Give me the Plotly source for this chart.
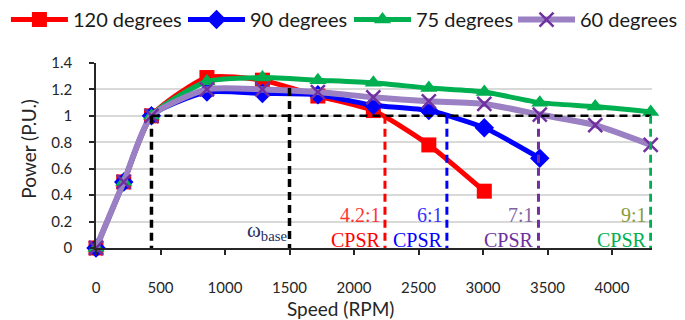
import plotly.graph_objects as go

speed = [0, 215, 430, 860, 1290, 1720, 2150, 2580, 3010, 3440, 3870, 4300]
p120 = [0, 0.5, 1.0, 1.29, 1.27, 1.15, 1.04, 0.78, 0.43]
p90 = [0, 0.5, 1.0, 1.18, 1.17, 1.16, 1.08, 1.04, 0.91, 0.68]
p75 = [0, 0.5, 1.0, 1.26, 1.29, 1.27, 1.25, 1.21, 1.18, 1.10, 1.07, 1.03]
p60 = [0, 0.5, 1.0, 1.20, 1.20, 1.18, 1.14, 1.11, 1.09, 1.01, 0.93, 0.78]

series_names = ["120 degrees", "90 degrees", "75 degrees", "60 degrees"]
base_speed = 430
mid_speed = 1500
mid_power = 1.21
cpsr_speed = [2240, 2720, 3430, 4300]
cpsr_ratio = ["4.2:1", "6:1", "7:1", "9:1"]
cpsr_color = ["#FF0000", "#0000FF", "#7030A0", "#00B050"]
ratio_color = ["#FF3333", "#3333FF", "#8064A2", "#8A9A3A"]

x_ticks = [0, 500, 1000, 1500, 2000, 2500, 3000, 3500, 4000]
y_ticks = [0, 0.2, 0.4, 0.6, 0.8, 1, 1.2, 1.4]
y_ticktext = ["0", "0.2", "0.4", "0.6", "0.8", "1", "1.2", "1.4"]

SERIF = "Liberation Serif, Times New Roman, DejaVu Serif, serif"
legend_ids = ["legend", "legend2", "legend3", "legend4"]
legend_x = [-0.162, 0.1565, 0.455, 0.75]

fig = go.Figure()
fig.add_trace(go.Scatter(x=speed[:len(p120)], y=p120, name=series_names[0], mode="lines+markers",
                         legend=legend_ids[0],
                         line=dict(color="#FF0000", width=5, shape="spline", smoothing=0.6),
                         marker=dict(symbol="square", size=15, color="#FF0000")))
fig.add_trace(go.Scatter(x=speed[:len(p90)], y=p90, name=series_names[1], mode="lines+markers",
                         legend=legend_ids[1],
                         line=dict(color="#0000FF", width=5, shape="spline", smoothing=0.6),
                         marker=dict(symbol="diamond", size=15, color="#0000FF")))
fig.add_trace(go.Scatter(x=speed[:len(p75)], y=p75, name=series_names[2], mode="lines+markers",
                         legend=legend_ids[2],
                         line=dict(color="#00B050", width=5, shape="spline", smoothing=0.6),
                         marker=dict(symbol="triangle-up", size=15, color="#00B050")))
fig.add_trace(go.Scatter(x=speed[:len(p60)], y=p60, name=series_names[3], mode="lines+markers",
                         legend=legend_ids[3],
                         line=dict(color="#9B80C4", width=6, shape="spline", smoothing=0.6),
                         marker=dict(symbol="x-thin-open", size=14, color="#7030A0",
                                     line=dict(color="#7030A0", width=2.5))))

dash = "8px,5px"
shapes = [
    dict(type="line", xref="x", yref="y", x0=base_speed, x1=speed[-1], y0=1, y1=1,
         line=dict(color="black", width=2.5, dash=dash), layer="above"),
    dict(type="line", xref="x", yref="y", x0=base_speed, x1=base_speed, y0=1, y1=-0.06,
         line=dict(color="black", width=3.5, dash=dash), layer="above"),
    dict(type="line", xref="x", yref="y", x0=mid_speed, x1=mid_speed, y0=mid_power, y1=-0.02,
         line=dict(color="black", width=3.5, dash=dash), layer="above"),
]
annotations = []
for s, r, c, rc in zip(cpsr_speed, cpsr_ratio, cpsr_color, ratio_color):
    shapes.append(dict(type="line", xref="x", yref="y", x0=s, x1=s, y0=1, y1=-0.06,
                       line=dict(color=c, width=3, dash=dash), layer="above"))
    annotations.append(dict(x=s, y=0.25, xref="x", yref="y", text=r, showarrow=False,
                            xanchor="right", xshift=-2, yanchor="middle",
                            font=dict(family=SERIF, size=20, color=rc)))
    annotations.append(dict(x=s, y=0.06, xref="x", yref="y", text="CPSR", showarrow=False,
                            xanchor="right", xshift=-2, yanchor="middle",
                            font=dict(family=SERIF, size=20, color=c)))

annotations.append(dict(x=mid_speed, y=0.13, xref="x", yref="y",
                        text="ω<sub>base</sub>", showarrow=False, xanchor="right", xshift=-1,
                        yanchor="middle", font=dict(family=SERIF, size=21, color="#1F2F5F")))
annotations.append(dict(x=0.44, y=-0.325, xref="paper", yref="paper", text="Speed (RPM)",
                        showarrow=False, xanchor="center", yanchor="middle",
                        font=dict(family="Lato", size=19, color="#262626")))
annotations.append(dict(x=-0.123, y=0.535, xref="paper", yref="paper", text="Power (P.U.)",
                        showarrow=False, textangle=-90, xanchor="center", yanchor="middle",
                        font=dict(family="Lato", size=19, color="#262626")))

legend_style = dict(orientation="h", xanchor="left", y=1.235, yanchor="middle",
                    font=dict(family="Lato", size=20, color="#1a1a1a"),
                    itemwidth=57, bgcolor="rgba(0,0,0,0)")
legend_layout = {lid: dict(legend_style, x=lx) for lid, lx in zip(legend_ids, legend_x)}

fig.update_layout(
    width=685, height=320,
    margin=dict(l=96, r=33, t=63, b=72, autoexpand=False),
    paper_bgcolor="white", plot_bgcolor="white",
    shapes=shapes, annotations=annotations,
    showlegend=True,
    xaxis=dict(range=[0, 4310], tickvals=x_ticks, showgrid=False, zeroline=False,
               showline=True, linecolor="#262626", linewidth=1.5,
               ticks="outside", ticklen=5, tickcolor="#262626", tickwidth=1.5,
               ticklabelstandoff=20,
               tickfont=dict(family="Lato", size=15, color="#262626"), automargin=False),
    yaxis=dict(range=[0, 1.4], tickvals=y_ticks, ticktext=y_ticktext, showgrid=True,
               gridcolor="#D9D9D9", gridwidth=2, zeroline=False,
               showline=True, linecolor="#262626", linewidth=1.5,
               ticks="outside", ticklen=5, tickcolor="#262626", tickwidth=1.5,
               ticklabelstandoff=14,
               tickfont=dict(family="Lato", size=15, color="#262626"), automargin=False),
    **legend_layout,
)
for tr in fig.data:
    tr.cliponaxis = False

fig.write_html("out.html")
